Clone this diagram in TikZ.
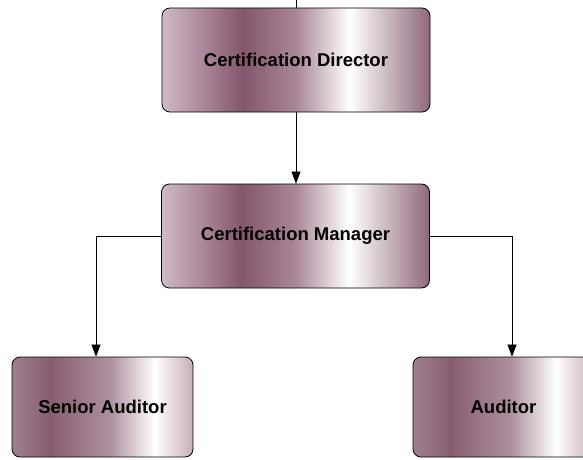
\documentclass[tikz,border=0pt]{standalone}
\usepackage{fontspec}
\setmainfont{Liberation Sans}
\usetikzlibrary{arrows.meta}

\pgfdeclarehorizontalshading{upshade}{100bp}{%
rgb(0bp)=(0.82,0.73,0.78);
rgb(25bp)=(0.82,0.73,0.78);
rgb(40bp)=(0.52,0.34,0.42);
rgb(50bp)=(0.66,0.53,0.59);
rgb(60bp)=(1,1,1);
rgb(75bp)=(0.56,0.41,0.48);
rgb(100bp)=(0.56,0.41,0.48)}
\pgfdeclarehorizontalshading{lowshade}{100bp}{%
rgb(0bp)=(0.62,0.50,0.56);
rgb(25bp)=(0.62,0.50,0.56);
rgb(35.5bp)=(0.53,0.37,0.44);
rgb(52bp)=(0.68,0.56,0.62);
rgb(64.5bp)=(1,1,1);
rgb(75bp)=(0.78,0.68,0.73);
rgb(100bp)=(0.78,0.68,0.73)}

\tikzset{
  post/.style={line width=0.8pt, rounded corners=8pt, draw=black},
  upbox/.style={post, shading=upshade, minimum width=268pt, minimum height=104pt,
    font=\fontsize{18.5}{22}\selectfont\bfseries},
  lowbox/.style={post, shading=lowshade, minimum width=181pt, minimum height=100pt,
    font=\fontsize{18.5}{22}\selectfont\bfseries},
  link/.style={line width=0.6pt, -{Triangle[length=12pt,width=9pt]}},
}

\begin{document}
\begin{tikzpicture}[x=1pt,y=1pt]
\useasboundingbox (0,0) rectangle (583,459);
\clip (0,0) rectangle (583,459);
%% boxes
\node[upbox] (director) at (296,399) {Certification Director};
\node[upbox] (manager) at (295.5,223) {Certification Manager};
\node[lowbox] (senior) at (102.5,52) {Senior Auditor};
\node[lowbox] (auditor) at (503.5,52) {Auditor};
%% links
\coordinate (above) at (296,459);
\draw[line width=0.6pt] (above) -- (director.north -| above);
\draw[link] (director.south -| above) -- (manager.north -| above);
\draw[link] (manager.west) -| (senior.north -| 96,0);
\draw[link] (manager.east) -| (auditor.north -| 512,0);
\end{tikzpicture}
\end{document}
